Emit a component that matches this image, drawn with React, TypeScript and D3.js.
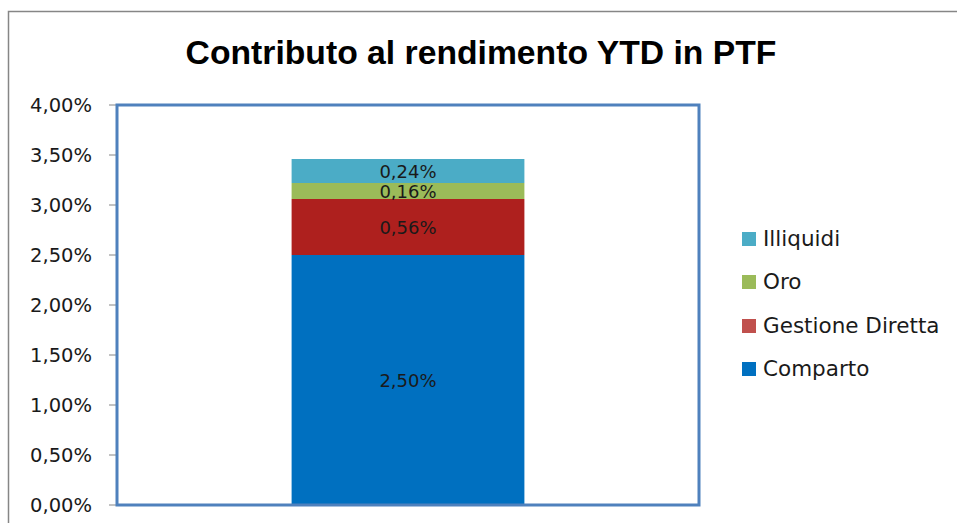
import * as d3 from "d3";

// dati
const categorie = ["PTF"];
const serie = ["Comparto", "Gestione Diretta", "Oro", "Illiquidi"];
const valori = [2.5, 0.56, 0.16, 0.24];
const coloriBarre = ["#0070C0", "#AE201E", "#9BBB59", "#4BACC6"];
const coloriLegenda = ["#0070C0", "#C0504D", "#9BBB59", "#4BACC6"];
const tickY = [0, 0.5, 1, 1.5, 2, 2.5, 3, 3.5, 4];

const W = 957;
const H = 523;
const plot = { left: 117, right: 699, top: 105, bottom: 505 };
const FONT = "'DejaVu Sans', Verdana, sans-serif";

const fmt = (v: number) => v.toFixed(2).replace(".", ",") + "%";

export default function App() {
  const x = d3
    .scaleBand<string>()
    .domain(categorie)
    .range([plot.left, plot.right])
    .paddingInner(0.6)
    .paddingOuter(0.3);

  const y = d3.scaleLinear().domain([0, 4]).range([plot.bottom, plot.top]);

  // impilamento
  const row: Record<string, number | string> = { cat: categorie[0] };
  serie.forEach((s, i) => (row[s] = valori[i]));
  const stacked = d3.stack<Record<string, number | string>>().keys(serie)([row]);

  const legendaY = [369, 326, 282, 239];

  return (
    <svg
      width={W}
      height={H}
      style={{ position: "absolute", left: 0, top: 0, background: "#fff" }}
    >
      {/* cornice esterna */}
      <path d={`M8.5,${H} V11.5 H${W}`} fill="none" stroke="#868686" strokeWidth={1.5} />

      <text
        x={481}
        y={64}
        textAnchor="middle"
        fontFamily="'Liberation Sans', Arial, sans-serif"
        fontWeight="bold"
        fontSize={33.7}
        fill="#000"
      >
        Contributo al rendimento YTD in PTF
      </text>

      {/* asse Y */}
      {tickY.map((t) => (
        <g key={t}>
          <line x1={109} x2={plot.left} y1={y(t)} y2={y(t)} stroke="#868686" strokeWidth={1} />
          <text
            x={92}
            y={y(t) + 6.5}
            textAnchor="end"
            fontFamily={FONT}
            fontSize={19.5}
            fill="#1a1a1a"
          >
            {fmt(t)}
          </text>
        </g>
      ))}

      {/* barre */}
      {stacked.map((layer, i) =>
        layer.map((d) => (
          <rect
            key={serie[i]}
            x={x(categorie[0])!}
            y={y(d[1])}
            width={x.bandwidth()}
            height={y(d[0]) - y(d[1])}
            fill={coloriBarre[i]}
          />
        ))
      )}

      {/* etichette dati */}
      {stacked.map((layer, i) =>
        layer.map((d) => (
          <text
            key={"l" + serie[i]}
            x={x(categorie[0])! + x.bandwidth() / 2}
            y={(y(d[0]) + y(d[1])) / 2 + 7}
            textAnchor="middle"
            fontFamily={FONT}
            fontSize={18}
            fill="#1a1a1a"
          >
            {fmt(valori[i])}
          </text>
        ))
      )}

      {/* bordo area di tracciamento */}
      <rect
        x={plot.left}
        y={plot.top}
        width={plot.right - plot.left}
        height={plot.bottom - plot.top}
        fill="none"
        stroke="#4F81BD"
        strokeWidth={3}
      />

      {/* legenda */}
      {serie.map((s, i) => (
        <g key={"lg" + s} transform={`translate(742, ${legendaY[i]})`}>
          <rect x={0} y={-7} width={14} height={14} fill={coloriLegenda[i]} />
          <text x={21} y={7} fontFamily={FONT} fontSize={21.5} fill="#1a1a1a">
            {s}
          </text>
        </g>
      ))}
    </svg>
  );
}
